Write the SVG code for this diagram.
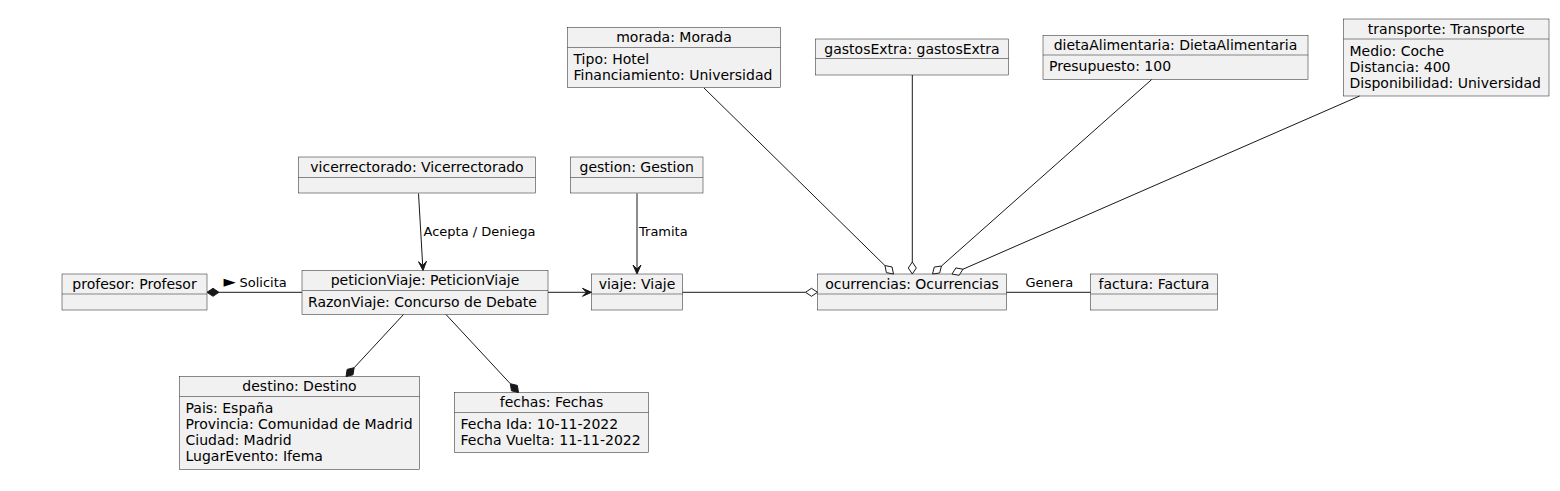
<svg xmlns="http://www.w3.org/2000/svg" width="1560" height="491" viewBox="0 0 1560 491">
<style>
.box{fill:#F1F1F1;stroke:#181818;stroke-width:0.5}
.sep{stroke:#181818;stroke-width:0.5}
.t{font-family:"DejaVu Sans","Liberation Sans",sans-serif;font-size:14px;fill:#000}
.h{text-anchor:middle}
.lbl{font-family:"DejaVu Sans","Liberation Sans",sans-serif;font-size:13px;fill:#000}
.ln{stroke:#181818;stroke-width:1;fill:none}
.fill{fill:#181818;stroke:#181818;stroke-width:1}
.hol{fill:#FFFFFF;stroke:#181818;stroke-width:1}
</style>
<rect width="1560" height="491" fill="#FFFFFF"/>

<g id="profesor">
<rect class="box" x="62" y="274" width="145" height="36"/>
<line class="sep" x1="62" y1="294" x2="207" y2="294"/>
<text class="t h" x="134.5" y="288.5">profesor: Profesor</text>
</g>

<g id="peticionViaje">
<rect class="box" x="302" y="270.5" width="246" height="44"/>
<line class="sep" x1="302" y1="290.5" x2="548" y2="290.5"/>
<text class="t h" x="425" y="285">peticionViaje: PeticionViaje</text>
<text class="t" x="308" y="306.5">RazonViaje: Concurso de Debate</text>
</g>

<g id="vicerrectorado">
<rect class="box" x="298.5" y="157" width="237" height="36"/>
<line class="sep" x1="298.5" y1="177.5" x2="535.5" y2="177.5"/>
<text class="t h" x="417" y="171.5">vicerrectorado: Vicerrectorado</text>
</g>

<g id="gestion">
<rect class="box" x="570.5" y="157" width="132.5" height="36"/>
<line class="sep" x1="570.5" y1="177.5" x2="703" y2="177.5"/>
<text class="t h" x="636.75" y="171.5">gestion: Gestion</text>
</g>

<g id="viaje">
<rect class="box" x="591.5" y="274" width="91" height="36"/>
<line class="sep" x1="591.5" y1="294" x2="682.5" y2="294"/>
<text class="t h" x="637" y="288.5">viaje: Viaje</text>
</g>

<g id="ocurrencias">
<rect class="box" x="817.5" y="274" width="189" height="36"/>
<line class="sep" x1="817.5" y1="294" x2="1006.5" y2="294"/>
<text class="t h" x="912" y="288.5">ocurrencias: Ocurrencias</text>
</g>

<g id="factura">
<rect class="box" x="1090.5" y="274" width="127" height="36"/>
<line class="sep" x1="1090.5" y1="294" x2="1217.5" y2="294"/>
<text class="t h" x="1154" y="288.5">factura: Factura</text>
</g>

<g id="destino">
<rect class="box" x="179.5" y="376.5" width="240" height="93"/>
<line class="sep" x1="179.5" y1="396.5" x2="419.5" y2="396.5"/>
<text class="t h" x="299.5" y="391">destino: Destino</text>
<text class="t" x="185.5" y="412.5">Pais: España</text>
<text class="t" x="185.5" y="428.8">Provincia: Comunidad de Madrid</text>
<text class="t" x="185.5" y="445.1">Ciudad: Madrid</text>
<text class="t" x="185.5" y="461.4">LugarEvento: Ifema</text>
</g>

<g id="fechas">
<rect class="box" x="454.5" y="392.5" width="194" height="60"/>
<line class="sep" x1="454.5" y1="412.5" x2="648.5" y2="412.5"/>
<text class="t h" x="551.5" y="407">fechas: Fechas</text>
<text class="t" x="460.5" y="428.5">Fecha Ida: 10-11-2022</text>
<text class="t" x="460.5" y="444.8">Fecha Vuelta: 11-11-2022</text>
</g>

<g id="morada">
<rect class="box" x="567.5" y="27.5" width="213" height="60"/>
<line class="sep" x1="567.5" y1="47.5" x2="780.5" y2="47.5"/>
<text class="t h" x="674" y="42">morada: Morada</text>
<text class="t" x="573.5" y="63.5">Tipo: Hotel</text>
<text class="t" x="573.5" y="79.8">Financiamiento: Universidad</text>
</g>

<g id="gastosExtra">
<rect class="box" x="815.5" y="39" width="193" height="36"/>
<line class="sep" x1="815.5" y1="58.5" x2="1008.5" y2="58.5"/>
<text class="t h" x="912" y="53.5">gastosExtra: gastosExtra</text>
</g>

<g id="dietaAlimentaria">
<rect class="box" x="1043" y="35.5" width="265" height="44"/>
<line class="sep" x1="1043" y1="55" x2="1308" y2="55"/>
<text class="t h" x="1175.5" y="50">dietaAlimentaria: DietaAlimentaria</text>
<text class="t" x="1049" y="71">Presupuesto: 100</text>
</g>

<g id="transporte">
<rect class="box" x="1343.5" y="19" width="205.5" height="77"/>
<line class="sep" x1="1343.5" y1="39" x2="1549" y2="39"/>
<text class="t h" x="1446.25" y="33.5">transporte: Transporte</text>
<text class="t" x="1349.5" y="55.5">Medio: Coche</text>
<text class="t" x="1349.5" y="71.8">Distancia: 400</text>
<text class="t" x="1349.5" y="88.1">Disponibilidad: Universidad</text>
</g>

<g id="connectors">
<!-- profesor *- peticionViaje -->
<line class="ln" x1="219" y1="292.3" x2="302" y2="292.3"/>
<polygon class="fill" points="207,292.3 213,288.3 219,292.3 213,296.3"/>
<text class="lbl" x="223.5" y="286.5"><tspan style="font-size:16px">►</tspan><tspan x="239.5">Solicita</tspan></text>

<!-- vicerrectorado -> peticionViaje -->
<line class="ln" x1="418.5" y1="193.5" x2="422.7" y2="265.5"/>
<polygon class="fill" points="423,270.5 426.47,261.28 422.71,265.51 418.49,261.74"/>
<text class="lbl" x="423.5" y="236">Acepta / Deniega</text>

<!-- gestion -> viaje -->
<line class="ln" x1="637" y1="193.5" x2="637" y2="269"/>
<polygon class="fill" points="637,274 633,265 637,269 641,265"/>
<text class="lbl" x="639" y="236">Tramita</text>

<!-- peticionViaje -> viaje -->
<line class="ln" x1="548" y1="292.3" x2="586.5" y2="292.3"/>
<polygon class="fill" points="591.5,292.3 582.5,288.3 586.5,292.3 582.5,296.3"/>

<!-- peticionViaje -> destino (composition) -->
<line class="ln" x1="403.5" y1="314.5" x2="354.16" y2="367.7"/>
<polygon class="fill" points="346,376.5 353.01,374.82 354.16,367.7 347.15,369.38"/>

<!-- peticionViaje -> fechas (composition) -->
<line class="ln" x1="446" y1="314.5" x2="510.33" y2="383.72"/>
<polygon class="fill" points="518.5,392.5 511.48,390.83 510.33,383.72 517.34,385.39"/>

<!-- viaje -o ocurrencias -->
<line class="ln" x1="682.5" y1="292.3" x2="805.5" y2="292.3"/>
<polygon class="hol" points="817.5,292.3 811.5,288.3 805.5,292.3 811.5,296.3"/>

<!-- ocurrencias - factura -->
<line class="ln" x1="1006.5" y1="292.3" x2="1090.5" y2="292.3"/>
<text class="lbl" x="1025.5" y="286.5">Genera</text>

<!-- morada o- ocurrencias -->
<line class="ln" x1="704" y1="88" x2="884.94" y2="265.59"/>
<polygon class="hol" points="893.5,274 886.42,272.65 884.94,265.59 892.02,266.95"/>

<!-- gastosExtra o- ocurrencias -->
<line class="ln" x1="912.3" y1="75" x2="912.3" y2="262"/>
<polygon class="hol" points="912.3,274 908.3,268 912.3,262 916.3,268"/>

<!-- dietaAlimentaria o- ocurrencias -->
<line class="ln" x1="1151.7" y1="79.5" x2="941.47" y2="266.02"/>
<polygon class="hol" points="932.5,274 939.64,273 941.47,266.02 934.32,267.02"/>

<!-- transporte o- ocurrencias -->
<line class="ln" x1="1359.6" y1="96" x2="963" y2="269.2"/>
<polygon class="hol" points="952,274 959.1,275.27 963,269.2 955.9,267.93"/>
</g>
</svg>
